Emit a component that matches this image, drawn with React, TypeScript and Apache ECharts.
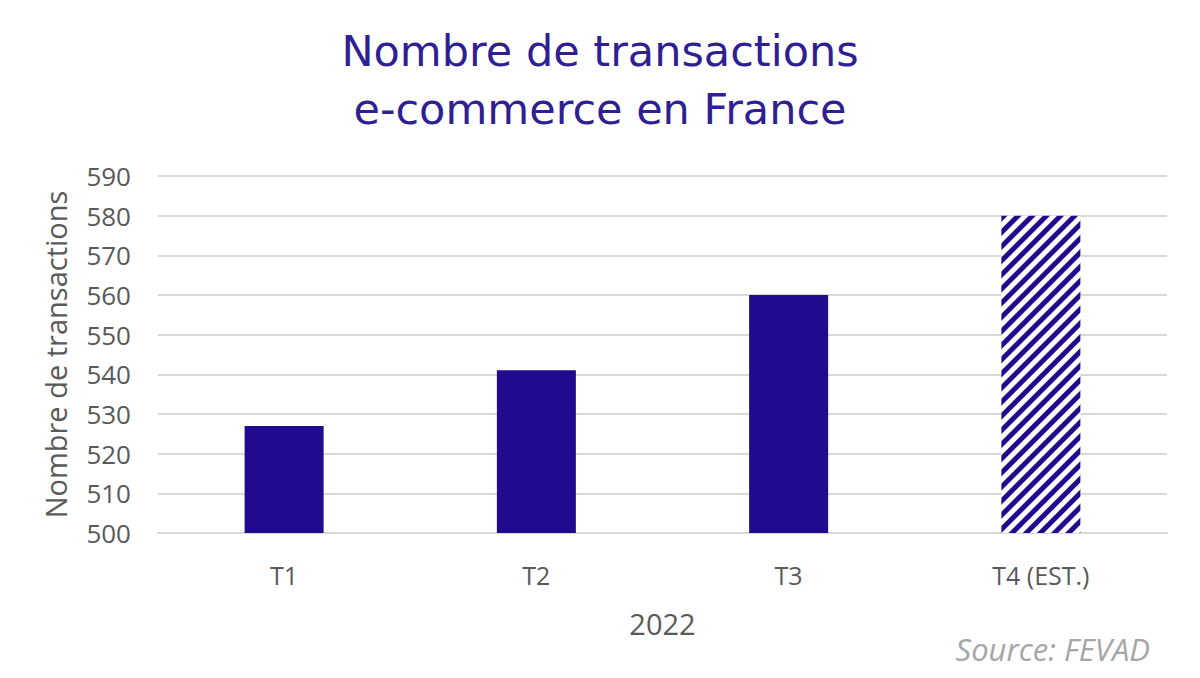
import React, { useEffect, useRef } from "react";
import * as echarts from "echarts";

const categories = ["T1", "T2", "T3", "T4 (EST.)"];
const values = [527, 541, 560, 580];
const estimated = [false, false, false, true];
const yTicks = { min: 500, max: 590, interval: 10 };
const titleLines = ["Nombre de transactions", "e-commerce en France"];
const xName = "2022";
const yName = "Nombre de transactions";
const sourceText = "Source: FEVAD";

const NAVY = "#220a8e";
const GREY = "#595959";
const AXIS_FONT = "'Open Sans', 'Noto Sans', sans-serif";

export default function App() {
  const ref = useRef<HTMLDivElement>(null);
  useEffect(() => {
    if (!ref.current) return;
    const chart = echarts.init(ref.current, null, { renderer: "svg" });
    chart.setOption({
      animation: false,
      backgroundColor: "#ffffff",
      title: {
        text: titleLines.join("\n"),
        left: "center",
        top: 17,
        textStyle: {
          fontFamily: "'DejaVu Sans', sans-serif",
          fontWeight: "normal",
          fontSize: 43,
          lineHeight: 58,
          color: "#2f1f92",
        },
      },
      grid: { left: 158, right: 33, top: 176, bottom: 145 },
      xAxis: {
        type: "category",
        data: categories,
        name: xName,
        nameLocation: "middle",
        nameGap: 76,
        nameTextStyle: { fontFamily: AXIS_FONT, fontSize: 29, color: GREY },
        axisLine: { show: true, lineStyle: { color: "#d9d9d9", width: 2 } },
        axisTick: { show: false },
        axisLabel: { margin: 29, fontFamily: AXIS_FONT, fontSize: 25, color: GREY },
      },
      yAxis: {
        type: "value",
        min: yTicks.min,
        max: yTicks.max,
        interval: yTicks.interval,
        name: yName,
        nameLocation: "middle",
        nameGap: 88,
        nameTextStyle: { fontFamily: AXIS_FONT, fontSize: 29, color: GREY },
        axisLine: { show: false },
        axisTick: { show: false },
        axisLabel: { margin: 27, fontFamily: AXIS_FONT, fontSize: 26, color: GREY },
        splitLine: { lineStyle: { color: "#d9d9d9", width: 2 } },
      },
      series: [
        {
          type: "bar",
          barWidth: 79,
          data: values.map((v, i) =>
            estimated[i]
              ? {
                  value: v,
                  itemStyle: {
                    color: "#ffffff",
                    decal: {
                      symbol: "rect",
                      symbolSize: 1,
                      dashArrayX: [1, 0],
                      dashArrayY: [5, 4.5],
                      rotation: -Math.PI / 4,
                      color: NAVY,
                      backgroundColor: "#ffffff",
                    },
                  },
                }
              : { value: v, itemStyle: { color: NAVY } }
          ),
        },
      ],
      graphic: [
        {
          type: "text",
          right: 50,
          top: 633,
          style: {
            text: sourceText,
            fontFamily: AXIS_FONT,
            fontStyle: "italic",
            fontSize: 31,
            fill: "#a6a6a6",
          },
        },
      ],
    });
    return () => chart.dispose();
  }, []);
  return (
    <div
      ref={ref}
      style={{ position: "fixed", left: 0, top: 0, width: 1200, height: 678 }}
    />
  );
}
